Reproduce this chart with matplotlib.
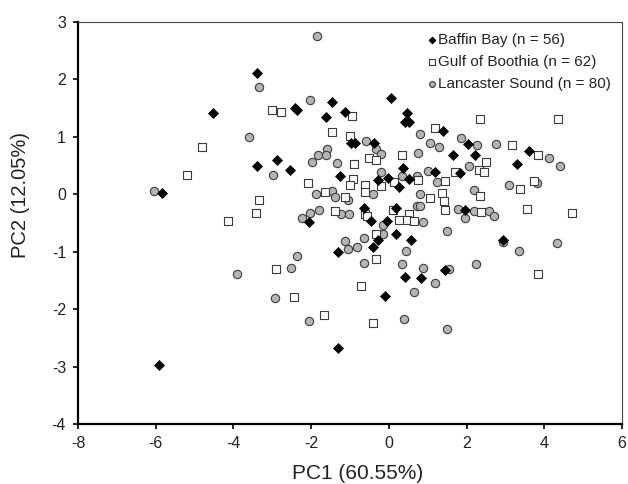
import matplotlib
matplotlib.use("Agg")
import matplotlib.pyplot as plt

# PCA scores
baffin_x = [-3.40, -4.52, -3.40, -5.83, -5.92, 0.06, -1.46, -2.42, -2.36, -1.14,
            -1.61, 0.47, 0.42, 0.53, -0.98, -0.86, -0.37, 1.39, -2.88, -2.54,
            -1.25, 0.37, 1.19, -0.02, -0.27, 0.53, 0.25, -2.05, -0.63, -0.45,
            -0.04, 0.19, -0.29, -0.40, 0.19, 0.56, -1.32, 0.42, 0.83, 1.45,
            -0.09, -1.30, 2.04, 3.60, 1.65, 2.21, 3.30, 1.84, 1.97, 2.93]
baffin_y = [2.11, 1.41, 0.50, 0.02, -2.97, 1.67, 1.60, 1.51, 1.47, 1.44,
            1.34, 1.41, 1.25, 1.25, 0.90, 0.90, 0.89, 1.11, 0.60, 0.43,
            0.31, 0.46, 0.38, 0.28, 0.24, 0.26, 0.12, -0.48, -0.24, -0.47,
            -0.47, -0.24, -0.79, -0.92, -0.69, -0.79, -1.00, -1.44, -1.45, -1.32,
            -1.77, -2.67, 0.88, 0.76, 0.68, 0.68, 0.53, 0.37, -0.27, -0.79]

gulf_x = [-4.81, -5.20, -3.33, -3.42, -4.15, -3.01, -2.78, -0.95, -1.47, -1.00,
          -0.51, -0.34, 0.34, 1.18, -0.89, -0.91, -1.01, -0.61, -0.20, 0.14,
          0.76, -2.07, 1.45, -1.64, -1.12, -0.61, 1.07, 1.37, 1.41, 1.45,
          -1.38, -0.61, -0.56, 0.10, 0.27, 0.53, 0.46, 0.64, -0.33, -0.34,
          -2.91, -2.44, -0.72, -1.67, -0.41, 2.35, 4.35, 3.18, 3.85, 2.51,
          2.31, 2.44, 1.71, 3.37, 3.73, 2.34, 2.37, 3.55, 4.71, 3.85]
gulf_y = [0.83, 0.33, -0.10, -0.32, -0.47, 1.47, 1.44, 1.36, 1.08, 1.02,
          0.63, 0.59, 0.68, 1.15, 0.52, 0.26, 0.16, 0.17, 0.14, 0.21,
          0.24, 0.20, 0.23, 0.04, -0.05, 0.04, -0.07, 0.02, -0.12, -0.27,
          -0.30, -0.35, -0.38, -0.27, -0.44, -0.35, -0.44, -0.47, -0.70, -1.13,
          -1.31, -1.79, -1.60, -2.11, -2.25, 1.31, 1.31, 0.86, 0.68, 0.57,
          0.43, 0.38, 0.39, 0.09, 0.23, -0.03, -0.31, -0.25, -0.32, -1.38]

lanc_x = [-3.33, -3.60, -6.05, -3.91, -1.86, -2.02, -0.59, -0.34, -0.19, 0.76,
          0.80, 1.07, 1.28, -1.60, -1.83, -1.61, -1.98, -1.33, -2.99, -0.20,
          0.34, 0.72, 1.01, 1.25, -1.88, -1.47, -1.38, -1.06, -0.42, 0.81,
          0.72, 0.80, -1.80, -2.02, -2.24, -1.23, -1.02, -0.14, 0.55, 0.89,
          -0.14, 1.49, -1.12, -1.06, -0.81, -0.64, -0.63, 0.44, 0.34, 0.87,
          1.18, 0.66, 1.54, -2.37, -2.51, -2.94, -2.06, 0.38, 1.49, 1.86,
          2.28, 2.76, 4.11, 4.40, 2.07, 3.08, 3.81, 2.18, 1.79, 2.18,
          2.57, 2.70, 1.97, 2.93, 3.34, 4.34, 2.24]
lanc_y = [1.87, 0.99, 0.06, -1.39, 2.75, 1.64, 0.92, 0.79, 0.70, 0.71,
          1.05, 0.90, 0.82, 0.78, 0.68, 0.68, 0.57, 0.55, 0.34, 0.39,
          0.31, 0.31, 0.40, 0.22, 0.01, 0.06, -0.05, -0.10, 0.01, 0.01,
          -0.21, -0.20, -0.27, -0.32, -0.41, -0.34, -0.34, -0.53, -0.44, -0.49,
          -0.69, -0.64, -0.82, -0.95, -0.92, -0.77, -1.19, -0.98, -1.22, -1.28,
          -1.55, -1.70, -1.30, -1.08, -1.28, -1.81, -2.20, -2.18, -2.35, 0.98,
          0.85, 0.88, 0.63, 0.50, 0.50, 0.17, 0.19, 0.08, -0.25, -0.30,
          -0.30, -0.38, -0.41, -0.83, -0.99, -0.84, -1.22]

plt.rcParams["font.family"] = ["Liberation Sans", "DejaVu Sans"]
plt.rcParams["axes.unicode_minus"] = False

fig = plt.figure(figsize=(6.28, 4.84), dpi=100)
ax = fig.add_axes([0.1242, 0.124, 0.8662, 0.8306])

ax.scatter(lanc_x, lanc_y, marker="o", s=36, facecolor="#b4b4b4", edgecolor="#3c3c3c",
           linewidth=0.8, label="Lancaster Sound (n = 80)", zorder=3)
ax.scatter(gulf_x, gulf_y, marker="s", s=36, facecolor="white", edgecolor="#3c3c3c",
           linewidth=0.8, label="Gulf of Boothia (n = 62)", zorder=3)
ax.scatter(baffin_x, baffin_y, marker="D", s=26, facecolor="black", edgecolor="black",
           linewidth=0.5, label="Baffin Bay (n = 56)", zorder=4)

ax.set_xlim(-8, 6)
ax.set_ylim(-4, 3)
ax.set_xticks(range(-8, 7, 2))
ax.set_yticks(range(-4, 4))

for s in ("left", "bottom"):
    ax.spines[s].set_linewidth(1.6)
    ax.spines[s].set_color("black")
for s in ("top", "right"):
    ax.spines[s].set_linewidth(0.8)
    ax.spines[s].set_color("#444444")
ax.tick_params(direction="out", length=3.6, width=1.2, labelsize=11.5, color="black",
               labelcolor="#222222", pad=5)

ax.set_xlabel("PC1 (60.55%)", fontsize=15, color="#222222")
ax.set_ylabel("PC2 (12.05%)", fontsize=14.5, color="#222222")
ax.xaxis.set_label_coords((358 - 78) / 544, -0.1)
ax.yaxis.set_label_coords(-0.088, 0.57)

h, l = ax.get_legend_handles_labels()
leg = ax.legend(h[::-1], l[::-1], loc="upper left", bbox_to_anchor=(0.632, 0.987),
                frameon=False, fontsize=11, handlelength=0.5, handletextpad=0.15,
                labelspacing=0.5, markerscale=0.7, borderaxespad=0)
for t in leg.get_texts():
    t.set_color("#222222")

fig.savefig("out.png", dpi=100)
